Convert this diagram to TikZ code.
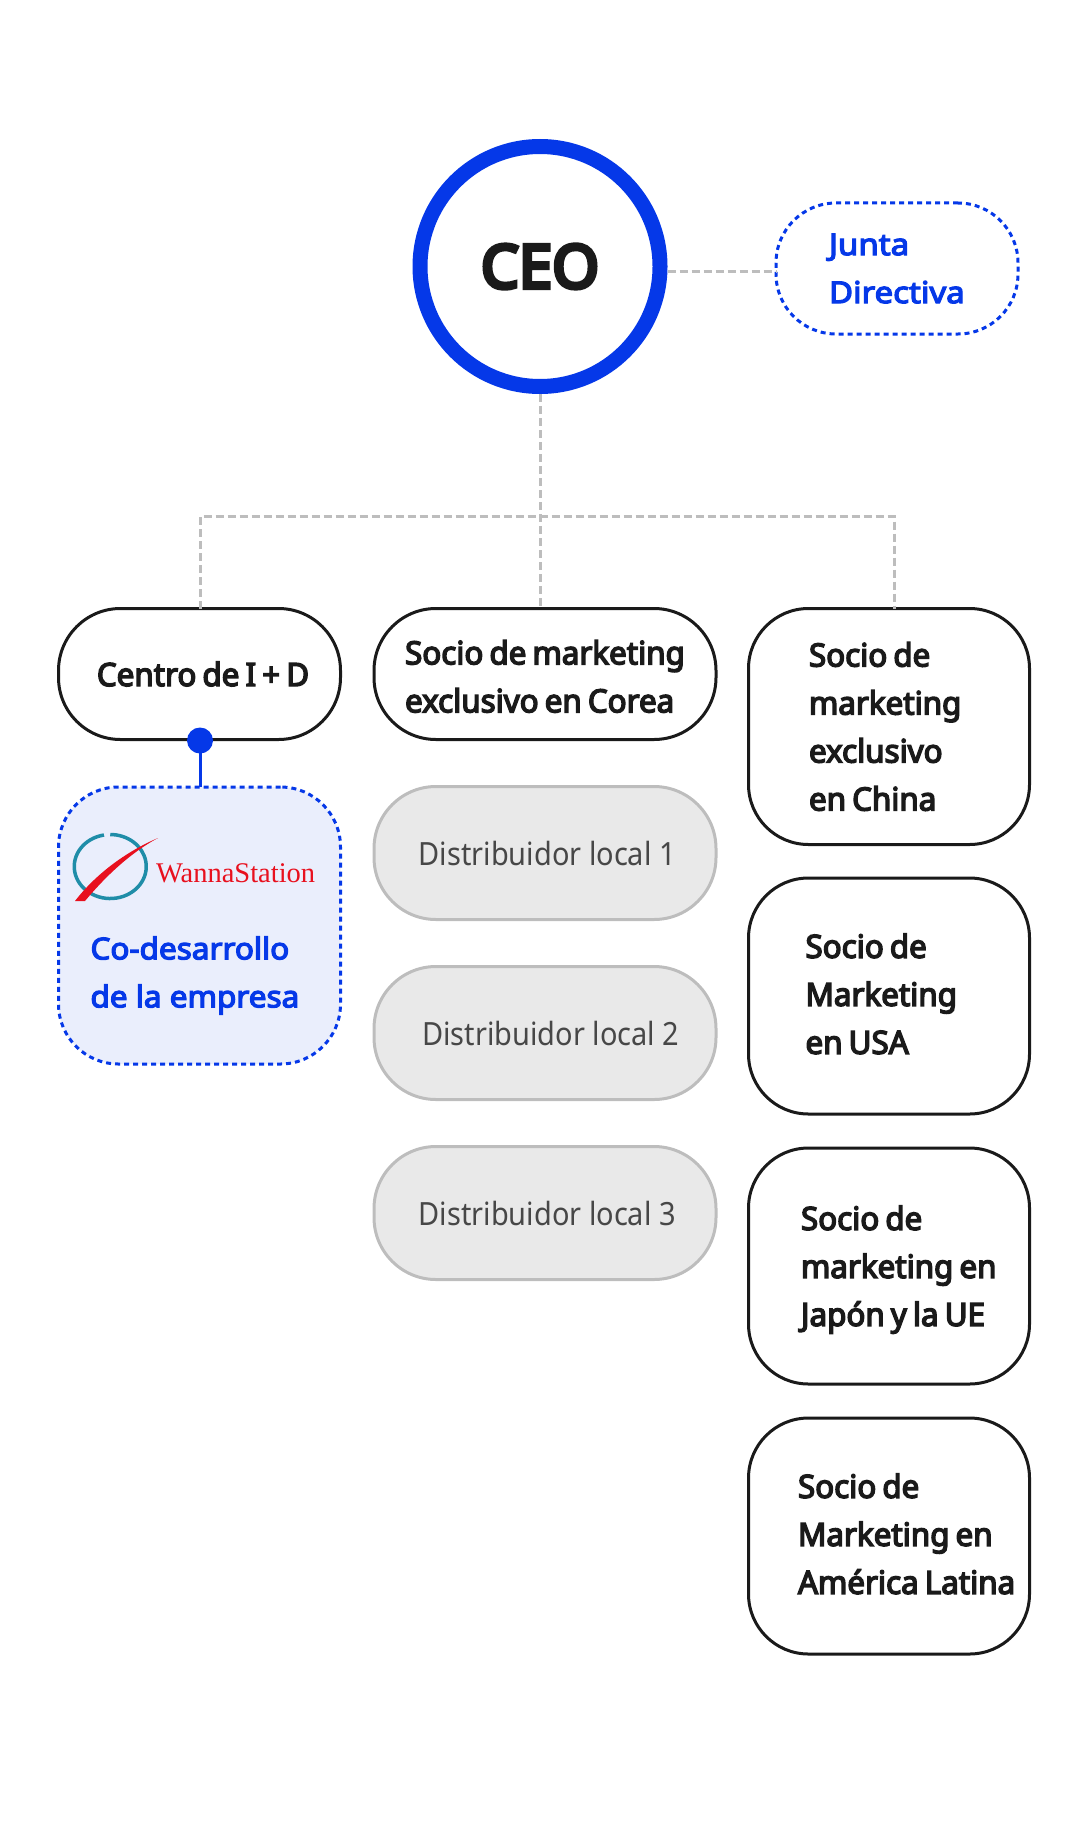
\documentclass[tikz,border=0pt]{standalone}
\usepackage{fontspec}
\setmainfont[FakeStretch=0.905]{Noto Sans}
\newfontfamily\heavyfont[FakeStretch=0.98,FakeBold=4.5]{Noto Sans}
\newfontfamily\bluefont[FakeStretch=1.05,FakeBold=4.2]{Noto Sans}
\newfontfamily\boardfont[FakeStretch=1.1,FakeBold=4.2]{Noto Sans}
\newfontfamily\ceofont[FakeBold=7]{Noto Sans}
\newfontfamily\logofont{Liberation Serif}
\newcommand{\tightsp}{\spaceskip=.19em\relax}
\definecolor{mainblue}{HTML}{0538E8}
\definecolor{softblue}{HTML}{EAEEFC}
\definecolor{softgray}{HTML}{E9E9E9}
\definecolor{linegray}{HTML}{BDBDBD}
\definecolor{inkblack}{HTML}{1A1A1A}
\definecolor{ringteal}{HTML}{1F8DA8}
\definecolor{logored}{HTML}{E8101E}

\begin{document}
\begin{tikzpicture}[
  x = 1pt, y = -1pt,
  every node/.style = {inner sep = 0pt, outer sep = 0pt},
  bigtxt/.style = {font = \fontsize{32}{48}\selectfont\heavyfont, text = inkblack, align = left},
  pill/.style = {bigtxt, draw = inkblack, line width = 3pt, fill = white, rounded corners = 62pt,
    minimum width = 342pt, minimum height = 131pt},
  partner/.style = {bigtxt, draw = inkblack, line width = 3pt, fill = white, rounded corners = 60pt,
    minimum width = 281pt, minimum height = 236pt, text width = #1},
  local/.style = {font = \fontsize{32}{48}\selectfont, text = black!72, draw = linegray,
    line width = 3pt, fill = softgray, rounded corners = 62pt,
    minimum width = 342pt, minimum height = 133pt},
  bluetxt/.style = {font = \fontsize{30}{48}\selectfont\bluefont, text = mainblue, align = left},
  link/.style = {draw = linegray, line width = 3pt, dash pattern = on 8pt off 4pt},
  blueline/.style = {draw = mainblue, line width = 3pt, dash pattern = on 5pt off 4pt}
]
\useasboundingbox (0,0) rectangle (1080,1822);

\node[draw = mainblue, line width = 15pt, circle, minimum size = 240pt, fill = white, outer sep = 7.5pt,
  font = \fontsize{60}{60}\selectfont\ceofont, text = inkblack](root) at (540,266.5){CEO};
\node[bluetxt, blueline, font = \fontsize{30}{48}\selectfont\boardfont, rounded corners = 60pt,
  minimum width = 242pt, minimum height = 131pt,
  text width = 136pt](board) at (897,268.5){Junta\\Directiva};

\node[pill, minimum width = 282pt](B1) at (199.5,674){\tightsp\hspace*{7pt}Centro de I + D};
\node[pill, text height = 77pt](B2) at (545,674){\tightsp Socio de marketing\\\tightsp exclusivo en Corea};
\node[partner = 160pt](B3) at (889,726.5){\tightsp Socio de\\marketing\\exclusivo\\en China};
\node[partner = 167pt, text height = 20pt](B4) at (889,996){\tightsp Socio de\\Marketing\\en USA};
\node[partner = 176pt, text height = 31.5pt](B5) at (889,1266){\tightsp Socio de\\marketing~en\\Japón~y~la~UE};
\node[partner = 182pt, text height = 20pt](B6) at (889,1536){\tightsp Socio de\\Marketing~en\\América~Latina};

\node[local](D1) at (545,853){\hspace*{4.4pt}Distribuidor local 1};
\node[local](D2) at (545,1033){\hspace*{11.4pt}Distribuidor local 2};
\node[local](D3) at (545,1213){\hspace*{4.4pt}Distribuidor local 3};

% Co-development box
\node[blueline, fill = softblue, rounded corners = 60pt, minimum width = 282pt, minimum height = 277pt](R1)
  at (199.5,925.5){};
\node[bluetxt, anchor = west](R1txt) at (90.5,975.5){Co-desarrollo\\de la empresa};

% Logo
\draw[ringteal, line width = 3.5pt] (104,835) arc[start angle = 100, end angle = 450,
  x radius = 36pt, y radius = 32pt];
\fill[logored] (75,901) .. controls (95,875) and (125,852) .. (158,838)
  .. controls (130,853) and (105,877) .. (85,901) -- cycle;
\node[anchor = base west, font = \fontsize{28.5}{28.5}\selectfont\logofont, text = logored](logotxt)
  at (156,882){WannaStation};

% Connectors
\coordinate (busL) at (200,516);
\coordinate (busR) at (894,516);
\coordinate (boardY) at (0,271);
\draw[link] (root.east |- boardY) -- (board.west |- boardY);
\draw[link] (root.south) -- (root.south |- B2.north);
\draw[link] (busL |- B1.north) -- (busL) -- (busR) -- (busR |- B3.north);
\draw[mainblue, line width = 3pt] (busL |- B1.south) -- (busL |- R1.north);
\node[circle, fill = mainblue, minimum size = 26pt, yshift = -1pt](dot) at (busL |- B1.south){};
\end{tikzpicture}
\end{document}
